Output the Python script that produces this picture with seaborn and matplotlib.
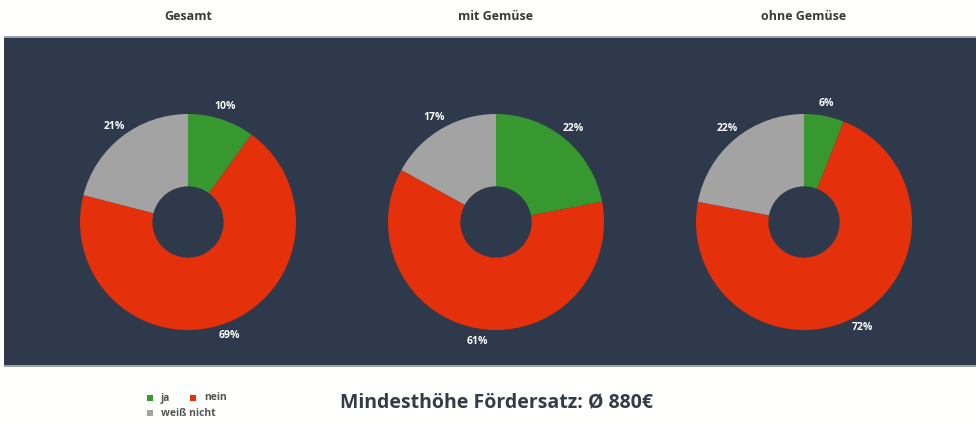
import numpy as np
import matplotlib
matplotlib.use("Agg")
import matplotlib.pyplot as plt
from matplotlib.patches import Rectangle
import seaborn as sns

# data
groups = ["Gesamt", "mit Gemüse", "ohne Gemüse"]
answers = ["ja", "nein", "weiß nicht"]
ja = [10, 22, 6]
nein = [69, 61, 72]
weiss_nicht = [21, 17, 22]

colors = ["#37982f", "#e4300b", "#a3a3a3"]
band = "#2e394b"

sns.set_theme(style="white")
plt.rcParams["font.family"] = ["Open Sans", "DejaVu Sans"]

W, H = 976, 424
fig = plt.figure(figsize=(W / 100, H / 100), dpi=100)
fig.patch.set_facecolor("#fffffd")

def frac(x, y, w, h):
    return [x / W, 1 - (y + h) / H, w / W, h / H]

# dark band behind the pies
bg = fig.add_axes(frac(4, 37, 972, 329))
bg.set_facecolor(band)
bg.set_xticks([])
bg.set_yticks([])
for s in bg.spines.values():
    s.set_visible(False)
fig.add_artist(Rectangle((4 / W, 1 - 37.5 / H), 972 / W, 1.2 / H,
                         transform=fig.transFigure, color="#9aa1ab", lw=0))
fig.add_artist(Rectangle((4 / W, 1 - 366.5 / H), 972 / W, 1.2 / H,
                         transform=fig.transFigure, color="#9aa1ab", lw=0))

radius_px = 109
centers = [188, 496, 804]
half = 135
for i, name in enumerate(groups):
    vals = [ja[i], nein[i], weiss_nicht[i]]
    ax = fig.add_axes(frac(centers[i] - half, 222 - half, 2 * half, 2 * half))
    ax.set_facecolor("none")
    lim = half / radius_px
    ax.set_xlim(-lim, lim)
    ax.set_ylim(-lim, lim)
    ax.set_aspect("equal")
    ax.axis("off")
    wedges, texts = ax.pie(vals, colors=colors, startangle=90, counterclock=False,
                           radius=1, labels=[f"{v}%" for v in vals], labeldistance=1.12,
                           wedgeprops=dict(width=0.67, linewidth=0),
                           textprops=dict(color="white", fontsize=7.5, fontweight="bold"))
    for t in texts:
        t.set_horizontalalignment("center")
        t.set_clip_on(False)
    fig.text(centers[i] / W, 1 - 17 / H, name, ha="center", va="center",
             fontsize=9, fontweight="bold", color="#3a3a3a")

fig.text(496 / W, 1 - 402 / H, "Mindesthöhe Fördersatz: Ø 880€", ha="center", va="center",
         fontsize=14, fontweight="bold", color="#333c48")

# legend
leg_pos = [(150, 398), (193, 398), (150, 413)]
for (x, y), lab, c in zip(leg_pos, answers, colors):
    fig.add_artist(Rectangle(((x - 3) / W, 1 - (y + 3) / H), 6 / W, 6 / H,
                             transform=fig.transFigure, color=c, lw=0))
    fig.text((x + 11) / W, 1 - y / H, lab, ha="left", va="center",
             fontsize=7.5, fontweight="bold", color="#555555")

fig.savefig("out.png", dpi=100, facecolor=fig.get_facecolor())
